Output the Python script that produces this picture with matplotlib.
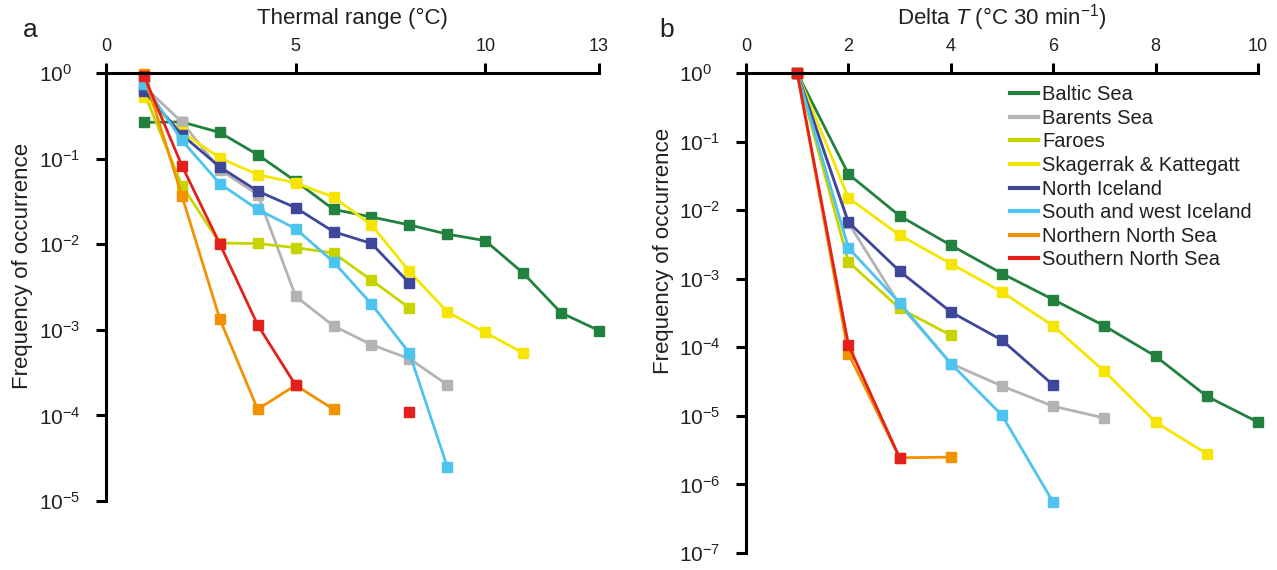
import numpy as np
import matplotlib
matplotlib.use('Agg')
import matplotlib.pyplot as plt
from matplotlib.lines import Line2D

plt.rcParams['font.family'] = ['Liberation Sans', 'DejaVu Sans']
plt.rcParams['mathtext.fontset'] = 'custom'
plt.rcParams['mathtext.rm'] = 'Liberation Sans'
plt.rcParams['mathtext.it'] = 'Liberation Sans:italic'

regions = ['Baltic Sea', 'Barents Sea', 'Faroes', 'Skagerrak & Kattegatt',
           'North Iceland', 'South and west Iceland', 'Northern North Sea',
           'Southern North Sea']
colors = ['#23813f', '#b3b3b3', '#c8d400', '#f5e500',
          '#3e4799', '#4dc3ef', '#f39200', '#e3201b']

nan = np.nan

# panel a: thermal range (deg C) -> frequency of occurrence
range_x = [1, 2, 3, 4, 5, 6, 7, 8, 9, 10, 11, 12, 13]
range_freq = {
    'Baltic Sea': [0.265, 0.268, 0.202, 0.111, 0.0545, 0.0255, 0.0208, 0.0168,
                   0.0131, 0.011, 0.0046, 0.00158, 0.00098],
    'Barents Sea': [0.70, 0.267, 0.0745, 0.038, 0.00247, 0.00111, 0.00067,
                    0.00046, 0.000228],
    'Faroes': [0.60, 0.0485, 0.0103, 0.0102, 0.0091, 0.0079, 0.0038, 0.0018],
    'Skagerrak & Kattegatt': [0.52, 0.204, 0.102, 0.065, 0.052, 0.0355, 0.0168,
                              0.0048, 0.00162, 0.00093, 0.000535],
    'North Iceland': [0.62, 0.19, 0.08, 0.0417, 0.0267, 0.014, 0.0102, 0.0035],
    'South and west Iceland': [0.74, 0.163, 0.051, 0.0255, 0.0152, 0.0062,
                               0.002, 0.000535, 2.5e-5],
    'Northern North Sea': [0.97, 0.037, 0.00134, 0.000118, 0.000225, 0.000118],
    'Southern North Sea': [0.93, 0.083, 0.0101, 0.00114, 0.000225, nan, nan,
                           0.00011],
}

# panel b: delta T (deg C per 30 min) -> frequency of occurrence
delta_x = [1, 2, 3, 4, 5, 6, 7, 8, 9, 10]
delta_freq = {
    'Baltic Sea': [1.0, 0.0336, 0.00826, 0.00308, 0.00119, 0.000497, 0.000205,
                   7.4e-5, 1.93e-5, 8.1e-6],
    'Barents Sea': [1.0, 0.0065, 0.00042, 5.8e-5, 2.72e-5, 1.38e-5, 9.3e-6],
    'Faroes': [1.0, 0.00176, 0.00037, 0.00015],
    'Skagerrak & Kattegatt': [1.0, 0.0151, 0.00432, 0.00166, 0.00064, 0.000205,
                              4.46e-5, 8.1e-6, 2.8e-6],
    'North Iceland': [1.0, 0.00668, 0.00129, 0.000328, 0.000127, 2.82e-5],
    'South and west Iceland': [1.0, 0.00282, 0.000444, 5.8e-5, 1.02e-5, 5.5e-7],
    'Northern North Sea': [1.0, 8.1e-5, 2.45e-6, 2.5e-6],
    'Southern North Sea': [1.0, 0.000109, 2.45e-6],
}

fig = plt.figure(figsize=(12.77, 5.70), dpi=100)
ax1 = fig.add_axes([106 / 1277, 1 - 501 / 570, (599 - 106) / 1277, (501 - 73) / 570])
ax2 = fig.add_axes([746 / 1277, 1 - 553 / 570, (1258 - 746) / 1277, (553 - 73) / 570])

txt = '#231f20'


def style_axis(ax, xticks, xmax, lowest, xlabel, label_y):
    ax.set_yscale('log')
    ax.set_xlim(0, xmax)
    ax.set_ylim(10.0 ** lowest, 1)
    ax.set_xticks(xticks)
    exps = list(range(0, lowest - 1, -1))
    ax.set_yticks([10.0 ** k for k in exps])
    ax.set_yticklabels(['$\\mathregular{10^{%d}}$' % k for k in exps], ha='left')
    ax.yaxis.set_minor_locator(matplotlib.ticker.NullLocator())
    ax.xaxis.tick_top()
    ax.xaxis.set_label_position('top')
    for s in ['bottom', 'right']:
        ax.spines[s].set_visible(False)
    for s in ['top', 'left']:
        ax.spines[s].set_linewidth(2.2)
        ax.spines[s].set_color('black')
    ax.tick_params(direction='out', length=7, width=2.2, labelcolor=txt)
    ax.tick_params(axis='x', labelsize=13, pad=6)
    ax.tick_params(axis='y', labelsize=15, pad=41)
    ax.set_xlabel(xlabel, fontsize=16, color=txt, labelpad=10)
    ax.set_ylabel('Frequency of occurrence', fontsize=16, color=txt)
    # label sits ~85 px left of the spine
    ax.yaxis.set_label_coords(-83 / ax.bbox.width, label_y)
    ax.yaxis.label.set_verticalalignment('center')
    ax.patch.set_visible(False)


for name, col in zip(regions, colors):
    y = range_freq[name]
    ax1.plot(range_x[:len(y)], y, color=col, lw=2.0, marker='s', ms=6.5,
             clip_on=False)
    y = delta_freq[name]
    ax2.plot(delta_x[:len(y)], y, color=col, lw=2.0, marker='s', ms=6.5,
             clip_on=False)

style_axis(ax1, [0, 5, 10, 13], 13, -5, 'Thermal range (°C)', 0.55)
style_axis(ax2, [0, 2, 4, 6, 8, 10], 10, -7,
           'Delta $\\mathit{T}$ (°C 30 min$^{-1}$)', 0.63)

handles = [Line2D([], [], color=c, lw=3) for c in colors]
fig.legend(handles, regions, loc='upper left',
           bbox_to_anchor=(1002 / 1277, 1 - 77 / 570), frameon=False,
           fontsize=14.5, handlelength=1.4, handletextpad=0.2,
           labelspacing=0.23, borderaxespad=0, labelcolor=txt)

fig.text(30 / 1277, 1 - 30 / 570, 'a', fontsize=19, color=txt, va='center', ha='center')
fig.text(667 / 1277, 1 - 30 / 570, 'b', fontsize=19, color=txt, va='center', ha='center')

fig.savefig('out.png', dpi=100)
